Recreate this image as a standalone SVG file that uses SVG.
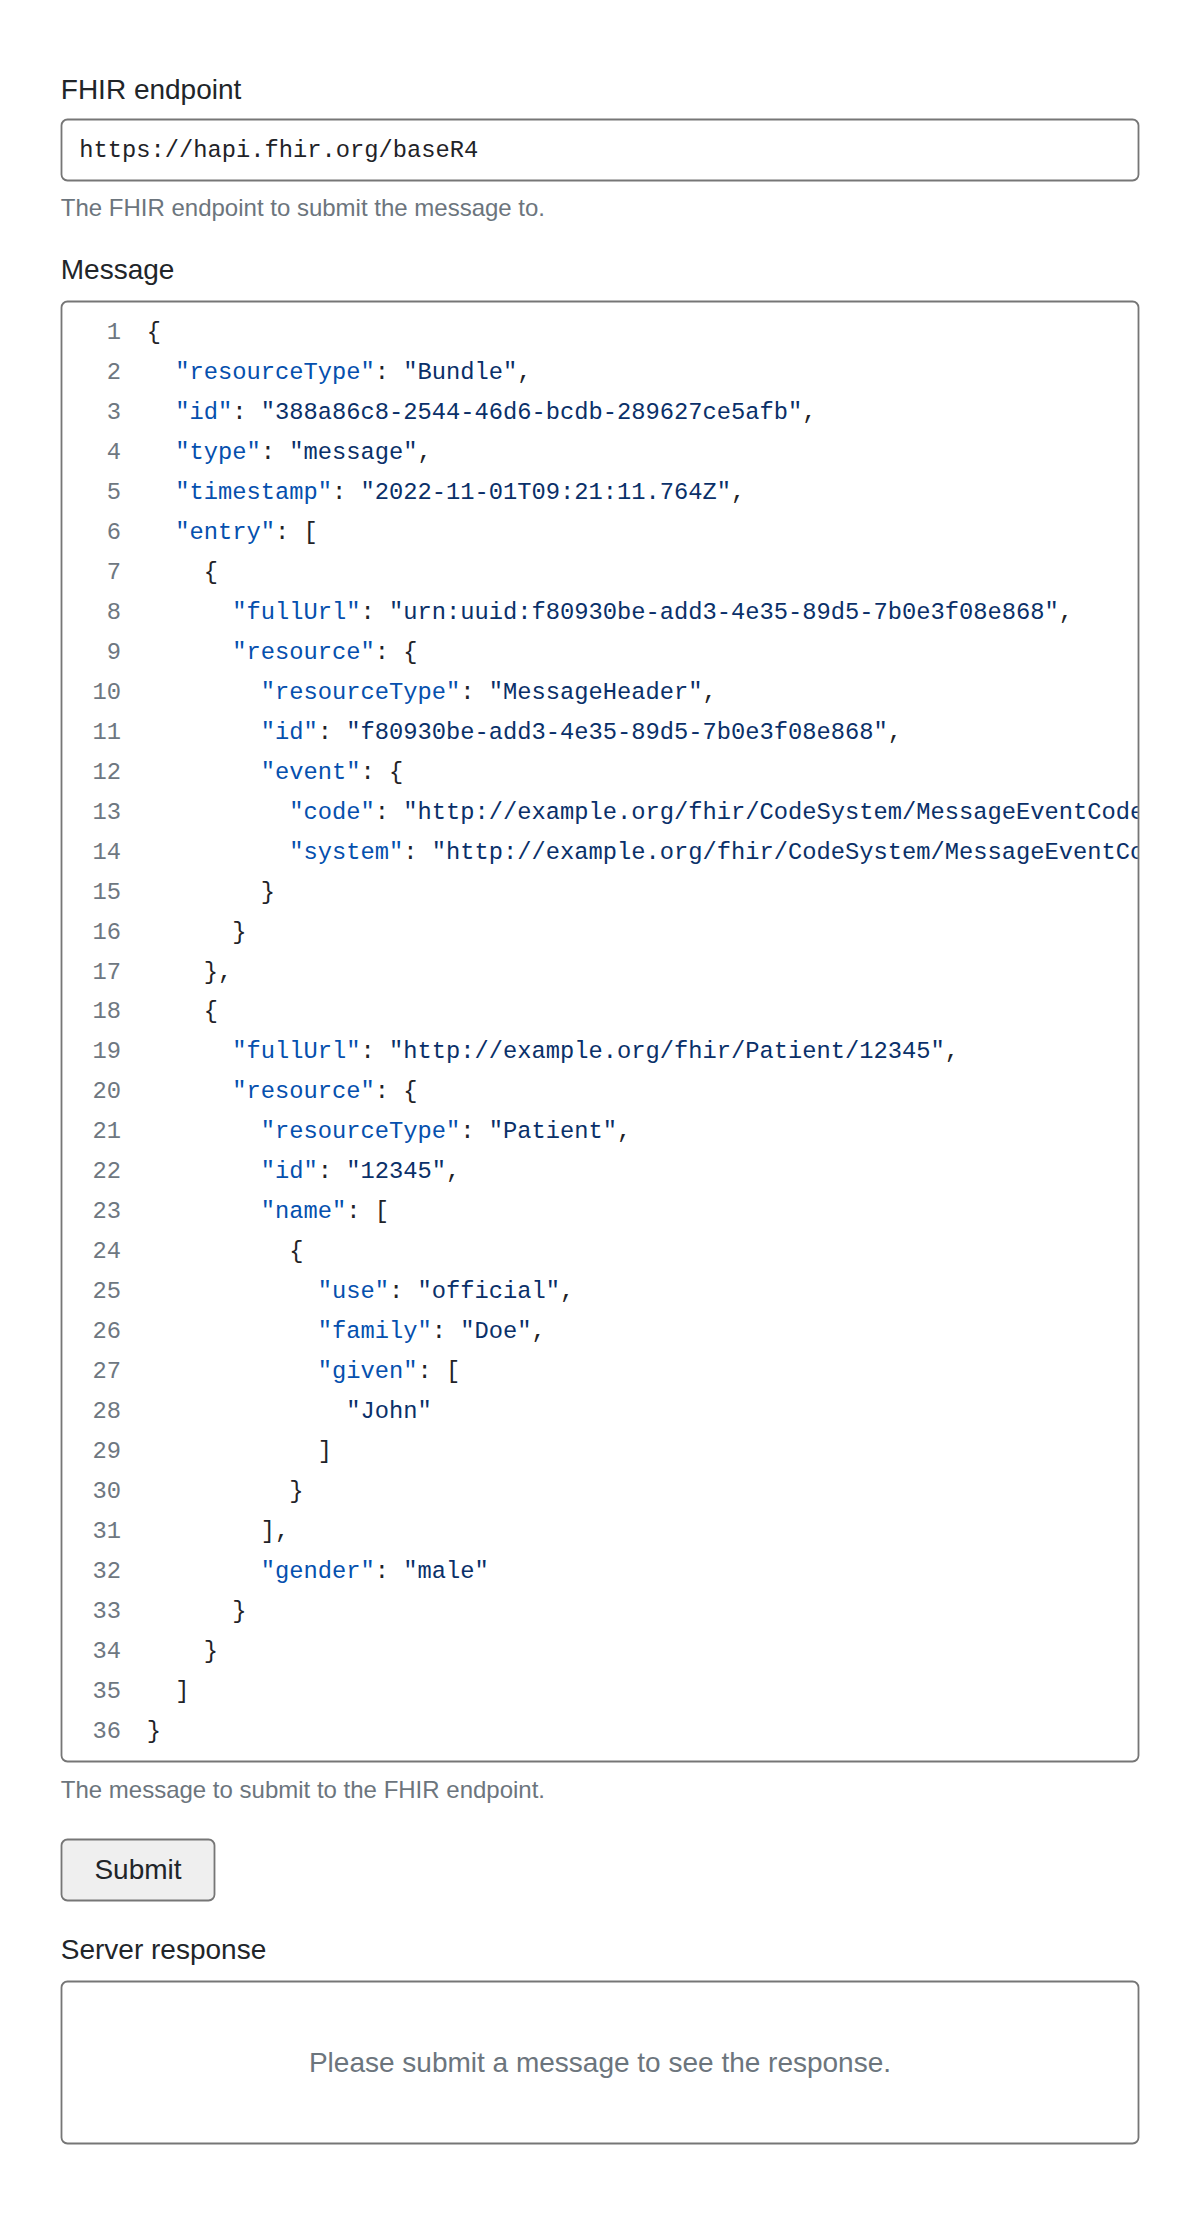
<svg xmlns="http://www.w3.org/2000/svg" width="1200" height="2214" viewBox="0 0 1200 2214">
<style>
.lbl{font-family:"Liberation Sans",Arial,sans-serif;font-size:28px;fill:#212529}
.help{font-family:"Liberation Sans",Arial,sans-serif;font-size:24px;fill:#6c757d}
.box{fill:#ffffff;stroke:#767676;stroke-width:1.8}
.mono{font-family:"Liberation Mono","Courier New",monospace;font-size:23.75px;fill:#1f2328}
.ln{font-family:"Liberation Mono","Courier New",monospace;font-size:23.75px;fill:#6e7781;text-anchor:end}
.k{fill:#0550ae}
.v{fill:#0a3069}
.btn{fill:#efefef;stroke:#767676;stroke-width:1.8}
</style>
<defs>
<clipPath id="codeClip"><rect x="62.5" y="302.5" width="1075.2" height="1458"/></clipPath>
</defs>
<rect width="1200" height="2214" fill="#ffffff"/>

<g id="endpoint">
<text class="lbl" x="60.8" y="98.5">FHIR endpoint</text>
<rect class="box" x="61.5" y="119.5" width="1077" height="61" rx="6"/>
<text class="mono" x="79.3" y="156.7">https://hapi.fhir.org/baseR4</text>
<text class="help" x="60.8" y="215.5">The FHIR endpoint to submit the message to.</text>
</g>

<g id="message">
<text class="lbl" x="60.8" y="279.3">Message</text>
<rect class="box" x="61.5" y="301.5" width="1077" height="1460" rx="6"/>
<g id="line-numbers">
<text class="ln" x="121" y="339.3">1</text>
<text class="ln" x="121" y="379.25">2</text>
<text class="ln" x="121" y="419.2">3</text>
<text class="ln" x="121" y="459.15">4</text>
<text class="ln" x="121" y="499.1">5</text>
<text class="ln" x="121" y="539.05">6</text>
<text class="ln" x="121" y="579">7</text>
<text class="ln" x="121" y="618.95">8</text>
<text class="ln" x="121" y="658.9">9</text>
<text class="ln" x="121" y="698.85">10</text>
<text class="ln" x="121" y="738.8">11</text>
<text class="ln" x="121" y="778.75">12</text>
<text class="ln" x="121" y="818.7">13</text>
<text class="ln" x="121" y="858.65">14</text>
<text class="ln" x="121" y="898.6">15</text>
<text class="ln" x="121" y="938.55">16</text>
<text class="ln" x="121" y="978.5">17</text>
<text class="ln" x="121" y="1018.45">18</text>
<text class="ln" x="121" y="1058.4">19</text>
<text class="ln" x="121" y="1098.35">20</text>
<text class="ln" x="121" y="1138.3">21</text>
<text class="ln" x="121" y="1178.25">22</text>
<text class="ln" x="121" y="1218.2">23</text>
<text class="ln" x="121" y="1258.15">24</text>
<text class="ln" x="121" y="1298.1">25</text>
<text class="ln" x="121" y="1338.05">26</text>
<text class="ln" x="121" y="1378">27</text>
<text class="ln" x="121" y="1417.95">28</text>
<text class="ln" x="121" y="1457.9">29</text>
<text class="ln" x="121" y="1497.85">30</text>
<text class="ln" x="121" y="1537.8">31</text>
<text class="ln" x="121" y="1577.75">32</text>
<text class="ln" x="121" y="1617.7">33</text>
<text class="ln" x="121" y="1657.65">34</text>
<text class="ln" x="121" y="1697.6">35</text>
<text class="ln" x="121" y="1737.55">36</text>
</g>
<g id="code" clip-path="url(#codeClip)" xml:space="preserve">
<text class="mono" x="146.7" y="339.3">{</text>
<text class="mono" x="175.2" y="379.25"><tspan class="k">"resourceType"</tspan>: <tspan class="v">"Bundle"</tspan>,</text>
<text class="mono" x="175.2" y="419.2"><tspan class="k">"id"</tspan>: <tspan class="v">"388a86c8-2544-46d6-bcdb-289627ce5afb"</tspan>,</text>
<text class="mono" x="175.2" y="459.15"><tspan class="k">"type"</tspan>: <tspan class="v">"message"</tspan>,</text>
<text class="mono" x="175.2" y="499.1"><tspan class="k">"timestamp"</tspan>: <tspan class="v">"2022-11-01T09:21:11.764Z"</tspan>,</text>
<text class="mono" x="175.2" y="539.05"><tspan class="k">"entry"</tspan>: [</text>
<text class="mono" x="203.7" y="579">{</text>
<text class="mono" x="232.2" y="618.95"><tspan class="k">"fullUrl"</tspan>: <tspan class="v">"urn:uuid:f80930be-add3-4e35-89d5-7b0e3f08e868"</tspan>,</text>
<text class="mono" x="232.2" y="658.9"><tspan class="k">"resource"</tspan>: {</text>
<text class="mono" x="260.7" y="698.85"><tspan class="k">"resourceType"</tspan>: <tspan class="v">"MessageHeader"</tspan>,</text>
<text class="mono" x="260.7" y="738.8"><tspan class="k">"id"</tspan>: <tspan class="v">"f80930be-add3-4e35-89d5-7b0e3f08e868"</tspan>,</text>
<text class="mono" x="260.7" y="778.75"><tspan class="k">"event"</tspan>: {</text>
<text class="mono" x="289.2" y="818.7"><tspan class="k">"code"</tspan>: <tspan class="v">"http://example.org/fhir/CodeSystem/MessageEventCode</tspan></text>
<text class="mono" x="289.2" y="858.65"><tspan class="k">"system"</tspan>: <tspan class="v">"http://example.org/fhir/CodeSystem/MessageEventCo</tspan></text>
<text class="mono" x="260.7" y="898.6">}</text>
<text class="mono" x="232.2" y="938.55">}</text>
<text class="mono" x="203.7" y="978.5">},</text>
<text class="mono" x="203.7" y="1018.45">{</text>
<text class="mono" x="232.2" y="1058.4"><tspan class="k">"fullUrl"</tspan>: <tspan class="v">"http://example.org/fhir/Patient/12345"</tspan>,</text>
<text class="mono" x="232.2" y="1098.35"><tspan class="k">"resource"</tspan>: {</text>
<text class="mono" x="260.7" y="1138.3"><tspan class="k">"resourceType"</tspan>: <tspan class="v">"Patient"</tspan>,</text>
<text class="mono" x="260.7" y="1178.25"><tspan class="k">"id"</tspan>: <tspan class="v">"12345"</tspan>,</text>
<text class="mono" x="260.7" y="1218.2"><tspan class="k">"name"</tspan>: [</text>
<text class="mono" x="289.2" y="1258.15">{</text>
<text class="mono" x="317.7" y="1298.1"><tspan class="k">"use"</tspan>: <tspan class="v">"official"</tspan>,</text>
<text class="mono" x="317.7" y="1338.05"><tspan class="k">"family"</tspan>: <tspan class="v">"Doe"</tspan>,</text>
<text class="mono" x="317.7" y="1378"><tspan class="k">"given"</tspan>: [</text>
<text class="mono" x="346.2" y="1417.95"><tspan class="v">"John"</tspan></text>
<text class="mono" x="317.7" y="1457.9">]</text>
<text class="mono" x="289.2" y="1497.85">}</text>
<text class="mono" x="260.7" y="1537.8">],</text>
<text class="mono" x="260.7" y="1577.75"><tspan class="k">"gender"</tspan>: <tspan class="v">"male"</tspan></text>
<text class="mono" x="232.2" y="1617.7">}</text>
<text class="mono" x="203.7" y="1657.65">}</text>
<text class="mono" x="175.2" y="1697.6">]</text>
<text class="mono" x="146.7" y="1737.55">}</text>
</g>
<text class="help" x="60.8" y="1797.5">The message to submit to the FHIR endpoint.</text>
</g>

<g id="submit">
<rect class="btn" x="61.5" y="1839.5" width="153" height="61" rx="6"/>
<text class="lbl" x="138" y="1879" text-anchor="middle">Submit</text>
</g>

<g id="response">
<text class="lbl" x="60.8" y="1959">Server response</text>
<rect class="box" x="61.5" y="1981.5" width="1077" height="162" rx="6"/>
<text class="lbl" x="600" y="2072.3" text-anchor="middle" style="fill:#6c757d">Please submit a message to see the response.</text>
</g>

<g id="connectors"/>
</svg>
